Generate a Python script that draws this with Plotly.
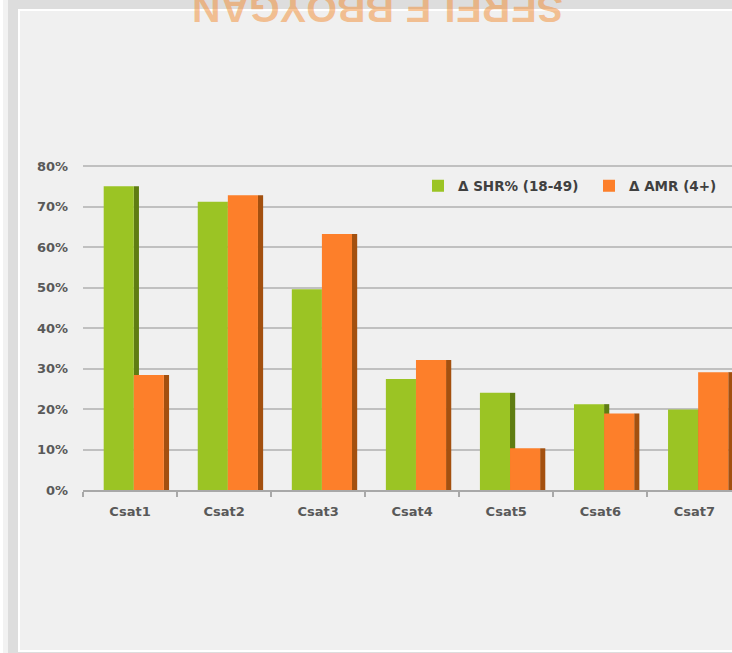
import plotly.graph_objects as go

# ---- data ----
categories = ["Csat1", "Csat2", "Csat3", "Csat4", "Csat5", "Csat6", "Csat7"]
shr_values = [0.750, 0.712, 0.496, 0.274, 0.240, 0.212, 0.199]
amr_values = [0.284, 0.728, 0.632, 0.321, 0.103, 0.189, 0.291]
series_names = ["Δ SHR% (18-49)", "Δ AMR (4+)"]
y_tickvals = [0, 0.1, 0.2, 0.3, 0.4, 0.5, 0.6, 0.7, 0.8]
y_ticktext = ["0%", "10%", "20%", "30%", "40%", "50%", "60%", "70%", "80%"]
reflected_title = "NAGYOBB ELERES"

# ---- styling ----
W, H = 732, 653
ML, MR, MT, MB = 83, 0, 162, 163
GREEN, GREEN_DARK = "#9BC424", "#5F7D12"
ORANGE, ORANGE_DARK = "#FD7F2A", "#A3500F"
FONT = "DejaVu Sans"

PW = W - ML - MR
PH = H - MT - MB


def xp(px):
    return (px - ML) / PW


def yp(py):
    return (H - MB - py) / PH


BAR_W = 0.32
SH_W = 0.055
G_OFF = -0.28
O_OFF = G_OFF + BAR_W

fig = go.Figure()
fig.add_trace(go.Bar(x=categories, y=shr_values, width=SH_W, offset=O_OFF,
                     marker=dict(color=GREEN_DARK, line=dict(width=0)),
                     showlegend=False, hoverinfo="skip"))
fig.add_trace(go.Bar(x=categories, y=shr_values, width=BAR_W, offset=G_OFF,
                     name=series_names[0], legend="legend",
                     marker=dict(color=GREEN, line=dict(width=0))))
fig.add_trace(go.Bar(x=categories, y=amr_values, width=SH_W, offset=O_OFF + BAR_W,
                     marker=dict(color=ORANGE_DARK, line=dict(width=0)),
                     showlegend=False, hoverinfo="skip"))
fig.add_trace(go.Bar(x=categories, y=amr_values, width=BAR_W, offset=O_OFF,
                     name=series_names[1], legend="legend2",
                     marker=dict(color=ORANGE, line=dict(width=0))))

shapes = [
    dict(type="rect", xref="paper", yref="paper", layer="below",
         x0=xp(3), x1=xp(760), y0=yp(-20), y1=yp(662),
         fillcolor="#F2F2F2", line=dict(width=0)),
    dict(type="rect", xref="paper", yref="paper", layer="below",
         x0=xp(8), x1=xp(760), y0=yp(-20), y1=yp(656),
         fillcolor="#DDDDDD", line=dict(width=0)),
    dict(type="rect", xref="paper", yref="paper", layer="below",
         x0=xp(18), x1=xp(760), y0=yp(9), y1=yp(652),
         fillcolor="#FFFFFF", line=dict(width=0)),
    dict(type="rect", xref="paper", yref="paper", layer="below",
         x0=xp(20), x1=xp(760), y0=yp(11), y1=yp(650),
         fillcolor="#F0F0F0", line=dict(width=0)),
]

annotations = [
    dict(text=reflected_title[::-1], textangle=180, xref="paper", yref="paper",
         x=xp(378), y=yp(9), xanchor="center", yanchor="middle", showarrow=False,
         font=dict(family="Liberation Sans", size=39.5, weight="bold",
                   color="rgba(242,140,50,0.5)")),
]

legend_font = dict(family=FONT, size=13.5, weight="bold", color="#404040")

fig.update_layout(
    width=W, height=H,
    margin=dict(l=ML, r=MR, t=MT, b=MB, pad=0),
    paper_bgcolor="#FFFFFF",
    plot_bgcolor="rgba(0,0,0,0)",
    barmode="overlay",
    shapes=shapes,
    annotations=annotations,
    font=dict(family=FONT, size=13, color="#595959"),
    legend=dict(x=xp(418), y=yp(186), xanchor="left", yanchor="middle",
                bgcolor="rgba(0,0,0,0)", font=legend_font),
    legend2=dict(x=xp(589), y=yp(186), xanchor="left", yanchor="middle",
                 bgcolor="rgba(0,0,0,0)", font=legend_font),
    xaxis=dict(type="category", range=[-0.5, 6.4], showgrid=False,
               showline=True, linecolor="#A8A8A8", linewidth=2,
               ticks="outside", tickson="boundaries", ticklen=5, tickwidth=1.5,
               tickcolor="#A8A8A8", ticklabelstandoff=8,
               tickfont=dict(family=FONT, size=13, weight="bold", color="#595959")),
    yaxis=dict(range=[0, 0.81], tickvals=y_tickvals, ticktext=y_ticktext,
               showgrid=True, gridcolor="#C0C0C0", gridwidth=2, zeroline=False,
               showline=False, ticks="", ticklabelstandoff=14,
               tickfont=dict(family=FONT, size=13, weight="bold", color="#595959")),
)

fig.write_html("out.html", config={"displayModeBar": False},
               post_script="document.body.style.margin='0';")
